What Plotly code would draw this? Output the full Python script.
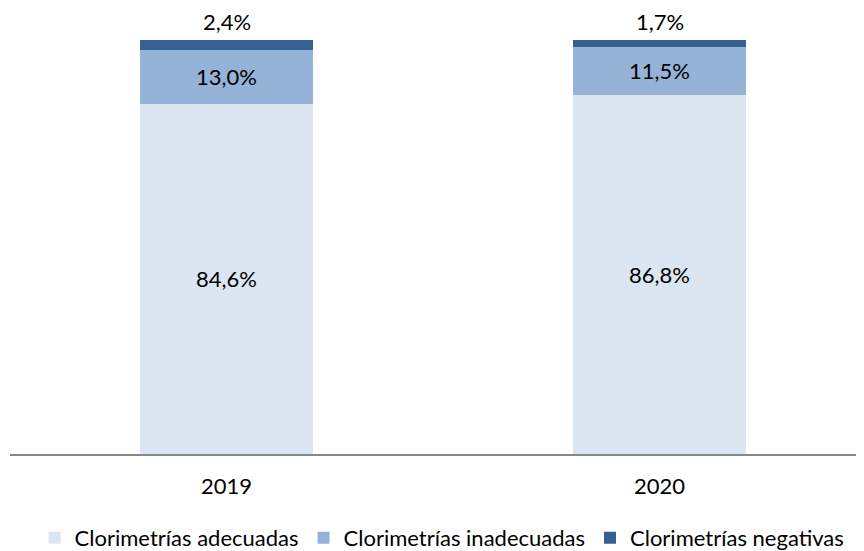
import plotly.graph_objects as go

years = ["2019", "2020"]
adecuadas = [84.6, 86.8]
inadecuadas = [13.0, 11.5]
negativas = [2.4, 1.7]
names = ["Clorimetrías adecuadas", "Clorimetrías inadecuadas", "Clorimetrías negativas"]
colors = ["#DCE6F2", "#95B3D7", "#376092"]

FONT = "Lato, Carlito, Calibri, sans-serif"
FS = 22

def fmt(v):
    return f"{v:.1f}%".replace(".", ",")

fig = go.Figure()
series = [adecuadas, inadecuadas, negativas]
for i, (vals, name, col) in enumerate(zip(series, names, colors)):
    fig.add_trace(go.Bar(
        x=years, y=vals, name=name,
        marker=dict(color=col, line=dict(width=0)),
        width=0.4,
        text=[fmt(v) for v in vals] if i < 2 else None,
        textposition="inside", insidetextanchor="middle", textangle=0,
        constraintext="none",
        textfont=dict(family=FONT, size=FS, color="#000000"),
        hoverinfo="skip",
    ))

totals = [round(a + b + c, 1) for a, b, c in zip(adecuadas, inadecuadas, negativas)]
for idx, (tot, v) in enumerate(zip(totals, negativas)):
    fig.add_annotation(x=idx, y=tot, text=fmt(v), showarrow=False,
                       yanchor="middle", yshift=19, borderpad=0,
                       font=dict(family=FONT, size=FS, color="#000000"))

# page body has an 8px margin, so the figure is sized to the remaining window
fig.update_layout(
    barmode="stack",
    width=856, height=543,
    margin=dict(l=2, r=0, t=32, b=97, autoexpand=False),
    paper_bgcolor="white", plot_bgcolor="white",
    font=dict(family=FONT, size=FS, color="#000000"),
    showlegend=True,
    legend=dict(orientation="h", x=0.506, xanchor="center", y=-0.152, yanchor="top",
                traceorder="normal", font=dict(family=FONT, size=FS),
                itemwidth=30, tracegroupgap=0),
)
fig.update_xaxes(type="category", range=[-0.5, 1.4723], showgrid=False,
                 showline=True, linecolor="#878787", linewidth=2, automargin=False,
                 ticks="", tickfont=dict(family=FONT, size=FS), ticklabelstandoff=12)
fig.update_yaxes(range=[0, 100], visible=False, showgrid=False, automargin=False)

fig.write_html("out.html")
